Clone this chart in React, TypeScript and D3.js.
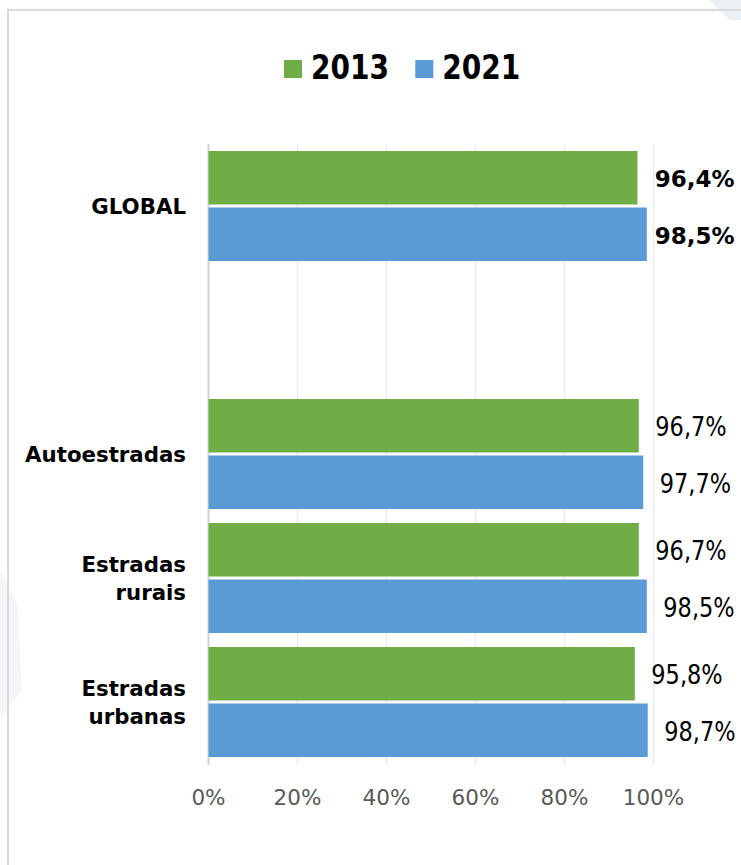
import React from "react";
import * as d3 from "d3";

const categories = ["GLOBAL", " ", "Autoestradas", "Estradas rurais", "Estradas urbanas"];
const categoryLines = [["GLOBAL"], [], ["Autoestradas"], ["Estradas", "rurais"], ["Estradas", "urbanas"]];
const series = ["2013", "2021"];
const values2013 = [96.4, null, 96.7, 96.7, 95.8];
const values2021 = [98.5, null, 97.7, 98.5, 98.7];
const labels2013 = ["96,4%", "", "96,7%", "96,7%", "95,8%"];
const labels2021 = ["98,5%", "", "97,7%", "98,5%", "98,7%"];
const xTicks = [0, 20, 40, 60, 80, 100];
const colors = ["#70AD47", "#5B9BD5"];

const W = 741;
const H = 865;

export default function App() {
  const x = d3.scaleLinear().domain([0, 100]).range([208.5, 653.5]);
  const y = d3.scaleBand<string>().domain(categories).range([144, 764]).paddingInner(0).paddingOuter(0);
  const inner = d3
    .scaleBand<string>()
    .domain(series)
    .range([0, y.bandwidth()])
    .paddingInner(0.0531)
    .paddingOuter(0.124);
  const seriesValues = [values2013, values2021];
  const seriesLabels = [labels2013, labels2021];
  const font = "'DejaVu Sans', Verdana, sans-serif";

  return (
    <svg
      width={W}
      height={H}
      viewBox={`0 0 ${W} ${H}`}
      style={{ position: "absolute", left: 0, top: 0, background: "#fff" }}
    >
      {/* faint background watermark */}
      <polygon points="708,0 741,0 741,20 730,20" fill="#e6ecf3" opacity={0.8} />
      <polygon points="0,570 18,605 22,690 0,720" fill="#f3f5f8" opacity={0.9} />
      {/* outer border */}
      <rect x={8} y={10} width={W + 20} height={H + 20} fill="none" stroke="#d9d9d9" strokeWidth={2} />

      {/* gridlines */}
      {xTicks.map((t) => (
        <line
          key={"g" + t}
          x1={x(t)}
          x2={x(t)}
          y1={144}
          y2={765}
          stroke={t === 0 ? "#d4d4d4" : "#ebebeb"}
          strokeWidth={t === 0 ? 2 : 1.5}
        />
      ))}

      {/* bars */}
      {categories.map((c, i) =>
        series.map((s, j) => {
          const v = seriesValues[j][i];
          if (v == null) return null;
          const y0 = (y(c) ?? 0) + (inner(s) ?? 0);
          return (
            <rect
              key={c + s}
              x={x(0)}
              y={y0}
              width={x(v) - x(0)}
              height={inner.bandwidth()}
              fill={colors[j]}
            />
          );
        })
      )}

      {/* data labels */}
      {categories.map((c, i) =>
        series.map((s, j) => {
          const v = seriesValues[j][i];
          if (v == null) return null;
          const cy = (y(c) ?? 0) + (inner(s) ?? 0) + inner.bandwidth() / 2;
          const bold = i === 0;
          if (bold) {
            const maxV = Math.max(values2013[i] as number, values2021[i] as number);
            const lx = x(maxV) + 8;
            return (
              <text
                key={"l" + c + s}
                x={lx}
                y={cy + 9.5}
                fontFamily={font}
                fontWeight="bold"
                fontSize={23}
                fill="#000"
              >
                {seriesLabels[j][i]}
              </text>
            );
          }
          const lx = x(v) + 16.5;
          return (
            <text
              key={"l" + c + s}
              transform={`translate(${lx},${cy + 10.5}) scale(0.82,1)`}
              fontFamily={font}
              fontSize={27.4}
              fill="#000"
            >
              {seriesLabels[j][i]}
            </text>
          );
        })
      )}

      {/* category labels */}
      {categories.map((c, i) => {
        const lines = categoryLines[i];
        const cy = (y(c) ?? 0) + y.bandwidth() / 2;
        const lh = 28.4;
        const first = cy - ((lines.length - 1) * lh) / 2 + 8;
        return lines.map((ln, k) => (
          <text
            key={"c" + i + k}
            x={186}
            y={first + k * lh}
            textAnchor="end"
            fontFamily={font}
            fontWeight="bold"
            fontSize={21.3}
            fill="#000"
          >
            {ln}
          </text>
        ));
      })}

      {/* x axis tick labels */}
      {xTicks.map((t) => (
        <text
          key={"t" + t}
          x={x(t)}
          y={805}
          textAnchor="middle"
          fontFamily={font}
          fontSize={21.5}
          fill="#595959"
        >
          {t + "%"}
        </text>
      ))}

      {/* legend */}
      {series.map((s, j) => {
        const lx = [284, 415.3][j];
        return (
          <g key={"lg" + s}>
            <rect x={lx} y={60} width={18} height={18} fill={colors[j]} />
            <text
              transform={`translate(${lx + 27},79.3) scale(0.85,1)`}
              fontFamily={font}
              fontWeight="bold"
              fontSize={33}
              fill="#000"
            >
              {s}
            </text>
          </g>
        );
      })}
    </svg>
  );
}
